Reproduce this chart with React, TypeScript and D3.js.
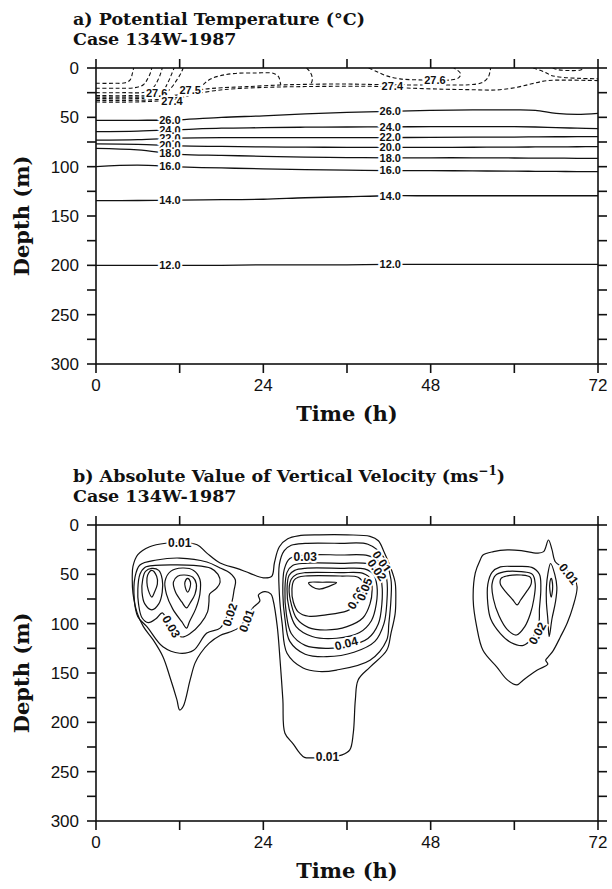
import React from "react";
import * as d3 from "d3";

type P = [number, number];

// ---------- axes ----------
const timeLabels = [0, 24, 48, 72];
const timeTicks = [0, 12, 24, 36, 48, 60, 72];
const depthLabels = [0, 50, 100, 150, 200, 250, 300];
const depthTicks = [0, 25, 50, 75, 100, 125, 150, 175, 200, 225, 250, 275, 300];

// ---------- panel a: potential temperature ----------
const isoTimes = [0, 6, 12, 18, 24, 30, 36, 42, 48, 54, 60, 63, 66, 69, 72];
const theta26 = [53, 53, 52.5, 50, 48.5, 46.5, 45, 44, 43, 42.5, 42.5, 43, 46, 47, 46];
const theta24 = [64.5, 64, 62.5, 61, 60.5, 60, 59.8, 59.6, 59.5, 59.5, 59.5, 59.8, 60.5, 61, 61.5];
const theta22 = [73, 72.5, 71, 70.5, 70.5, 70.5, 70.5, 70.5, 70.3, 70, 70, 69.8, 69.7, 69.6, 69.6];
const theta20 = [77, 77.5, 79, 79.5, 80, 80.2, 80.4, 80.4, 80.4, 80.3, 80.2, 80, 80, 79.8, 79.7];
const theta18 = [81.4, 83, 87.5, 88.5, 89.5, 90.3, 90.8, 91, 91, 91, 91.2, 91.3, 91.4, 91.5, 91.5];
const theta16 = [100, 98.5, 100.3, 101.3, 102.2, 103, 103.5, 104, 104, 104.3, 104.5, 104.7, 104.8, 105, 105];
const theta14 = [134.5, 134.3, 134, 133.5, 133, 131.5, 130.5, 129.5, 129.5, 129.5, 129.5, 129.5, 129.5, 129.5, 129.5];
const theta12 = [200, 200, 200, 200, 199.5, 199.5, 199.5, 199, 199, 199, 199, 199, 199, 199, 199];
const solidLevels = ["26.0", "24.0", "22.0", "20.0", "18.0", "16.0", "14.0", "12.0"];
const solidDepths = [theta26, theta24, theta22, theta20, theta18, theta16, theta14, theta12];
const solidLabelTimes = [10.6, 42.2];

// dashed near-surface isotherms (t, depth)
const dashD1: P[] = [[0, 15.5], [2.5, 15.5], [4.2, 15], [4.9, 12], [5.2, 6], [5.4, 0]];
const dashD2: P[] = [[0, 20.5], [3, 20.5], [5.5, 20], [6.8, 17], [7.4, 11], [7.8, 5], [8, 0]];
const dashD3: P[] = [[0, 25], [4, 25], [7, 24.5], [8.2, 20], [8.9, 12], [9.3, 5], [9.5, 0]];
const dashD4: P[] = [[0, 28], [5, 28], [8, 27.5], [9.6, 23], [10.3, 15], [10.8, 7], [11.2, 0]];
const dashB1: P[] = [[0, 29.5], [5, 29.5], [8, 29], [9.8, 26], [10.8, 20], [11.6, 12], [12.2, 5], [12.5, 0]];
const dashB2: P[] = [[0, 32.8], [5, 32.8], [8, 32.3], [10, 31.2], [12, 29.5]];
const dash275: P[] = [[0, 31], [6, 31], [9, 30], [11.5, 27.5], [13.5, 24], [15.5, 21.5], [18, 20], [21.6, 18.9], [26.4, 17.2], [30, 16.6], [35, 16.2], [40, 16.7], [45, 17.2], [50, 17.2], [53.5, 17], [55.3, 15], [56.2, 10], [56.5, 4], [56.6, 0]];
const dash274: P[] = [[0, 34.5], [5, 34.5], [8, 33.8], [10.6, 32.5], [12.5, 29.5], [14.5, 26], [17, 23], [20, 21], [25, 19.5], [30, 18.8], [36, 18.5], [40, 18.6], [44.6, 20.3], [50, 21.5], [54, 22], [57.5, 22.2], [60.4, 19.5], [62.5, 16], [64.7, 12.8], [68, 12.3], [72, 12.8]];
const dashA1: P[] = [[14.8, 22], [15.5, 16], [16.5, 11], [18, 7.5], [20, 5.5], [23, 5], [25.5, 5.5], [26.2, 9], [26.4, 14], [26.5, 17]];
const dashA2: P[] = [[30.2, 0], [30.7, 4], [31, 9], [31, 13], [30.8, 16.5]];
const dashU1: P[] = [[39.1, 0], [40.3, 3.7], [41.7, 8], [43.6, 11], [46, 12], [48.6, 12.2], [51, 12], [52, 10], [52.3, 6], [51.8, 2], [51.3, 0]];
const dashR1: P[] = [[62.7, 0], [64.2, 3.7], [65.3, 7.5], [67, 9.5], [69.5, 10.5], [72, 11]];
const dashR2: P[] = [[65.5, 0], [66.3, 1.8], [68, 2.6], [69.5, 2], [70, 0]];
const dashedLines = [dashD1, dashD2, dashD3, dashD4, dashB1, dashB2, dash275, dash274, dashA1, dashA2, dashU1, dashR1, dashR2];
const dashLabelText = ["27.6", "27.5", "27.4", "27.4", "27.6"];
const dashLabelT = [8.7, 13.5, 10.9, 42.5, 48.6];
const dashLabelD = [25.7, 22.3, 33.5, 18.8, 12.2];

// ---------- panel b: |w| contours (t, depth), closed rings ----------
const wOuter: P[] = [[12, 18], [14.5, 20], [15.9, 28.5], [17.8, 38.5], [20.2, 44], [22.1, 49], [24, 53.5], [25.2, 52], [25.6, 38], [26.3, 22], [27.5, 14], [29, 11], [32, 10], [36, 10], [39.3, 11.5], [40.5, 16], [41.3, 27], [42.2, 42], [42.9, 58], [43, 75], [42.9, 90], [42.3, 110], [41.7, 127], [39.3, 144], [37.6, 157], [37.2, 177], [36.9, 211], [36.4, 228], [35.3, 233], [33.3, 235], [31.1, 236], [29.9, 235.5], [29.2, 231], [28.3, 222], [27.1, 211], [26.8, 177], [26.4, 137], [26, 103], [25.4, 76], [25.1, 70], [24.2, 67.5], [23.3, 71], [23.5, 77], [22.5, 84], [21.5, 95], [20.5, 104], [19.2, 108.5], [17.8, 112], [16.2, 120], [15, 130], [14.2, 140], [13.5, 157], [12.5, 184], [12, 187.5], [11.6, 177], [10.6, 154], [9.6, 133.5], [8.2, 116.5], [6.8, 103], [5.9, 89], [5.3, 69], [5.2, 55], [5.3, 42], [6, 30], [7.7, 22], [10, 18.5]];
const wL2: P[] = [[12, 33.5], [15.9, 37.5], [17.8, 43.6], [19.2, 48.6], [20, 56], [19.8, 66], [19.5, 78], [18.8, 92], [17.8, 104.5], [15.9, 109.5], [14, 127], [12, 130], [9.6, 123.5], [7.3, 103], [6, 93], [5.5, 76], [5.6, 52.7], [6.3, 40.5], [8.7, 35.5]];
const wL3: P[] = [[6.3, 50], [7, 43], [8.5, 41], [11, 40.5], [14, 41], [16.5, 44], [17.5, 50], [17.8, 58], [17.3, 64], [16.3, 70], [16.2, 78], [16, 88], [15, 100], [13.5, 110], [12.3, 113.5], [11.3, 108], [10.3, 98], [9.5, 89], [8.6, 95], [7.5, 99], [6.6, 94], [6.1, 80], [6, 65]];
const wL4a: P[] = [[8, 44], [9, 46], [9.5, 55], [9.5, 68], [9, 80], [8, 86], [7, 80], [6.6, 68], [6.7, 55], [7.1, 47]];
const wL5a: P[] = [[8, 46], [8.7, 52], [8.8, 60], [8.4, 68], [8, 73], [7.5, 66], [7.3, 58], [7.4, 51]];
const wL4b: P[] = [[12.4, 43.6], [14, 46], [14.9, 55], [14.9, 70], [14.3, 85], [13.4, 98], [13, 104.5], [12.3, 98], [11, 85], [10.1, 70], [9.9, 57], [10.7, 47]];
const wL5b: P[] = [[12.7, 50.7], [13.9, 53], [14.4, 60], [14.2, 70], [13.5, 79], [13, 84], [12.3, 78], [11.4, 68], [11.1, 58], [11.7, 52]];
const wL6b: P[] = [[13.15, 54], [13.55, 58], [13.5, 63], [13.15, 68], [12.8, 63], [12.75, 58]];
const wM2: P[] = [[30, 18.6], [35, 18.6], [39, 19.5], [41.2, 32], [42.3, 55], [42.3, 76], [42, 100], [41.7, 116.5], [39.3, 137], [34.5, 147], [32, 148.5], [29.7, 145], [27.4, 130], [26.7, 100], [26.3, 70], [26.3, 40], [27, 26], [28, 20.5]];
const wM3: P[] = [[30, 30.4], [35, 30.4], [39, 31], [40.8, 38], [41.7, 55], [41.7, 80], [41.3, 100], [40, 118], [37, 129], [33.1, 133.5], [30, 131], [27.8, 118], [27.1, 95], [26.8, 70], [27, 45], [27.8, 34]];
const wM4: P[] = [[30, 38.8], [35, 38.8], [39, 39.5], [40.5, 46], [41, 60], [41, 80], [40.5, 100], [39, 115], [36, 123], [33, 125], [30, 122], [28, 110], [27.3, 90], [27.1, 65], [27.4, 48], [28.2, 41]];
const wM5: P[] = [[30, 43.9], [35, 43.9], [38.5, 44.5], [39.8, 50], [40.3, 62], [40.2, 80], [39.5, 97], [37.8, 109], [34.5, 114.8], [31, 113], [28.7, 103], [27.7, 85], [27.4, 65], [27.7, 51], [28.5, 46]];
const wM6: P[] = [[30, 48.3], [35, 48.3], [38.3, 49], [39.4, 55], [39.6, 66], [39.3, 80], [38.3, 94], [36, 103], [33, 106.4], [30.5, 104], [28.8, 95], [28, 80], [27.7, 65], [28, 55], [28.8, 50]];
const wM7: P[] = [[30, 51.7], [35, 51.7], [37.6, 53], [38.4, 60], [38.3, 70], [37.6, 80], [36, 87], [33, 91], [30.5, 92.5], [29, 88], [28.3, 78], [28.1, 65], [28.4, 56], [29, 53]];
const wM8: P[] = [[30.5, 58.5], [32.5, 58], [34.5, 58.5], [33.5, 62], [32, 65], [31, 62.5]];
const wRo: P[] = [[55.5, 30.4], [57, 27], [59, 25.3], [61, 26], [63.3, 28.5], [64.2, 27], [64.9, 15.2], [65.4, 25], [65.9, 37.5], [67, 43], [68.5, 52], [69, 62.8], [68.4, 83], [67.6, 99], [66.6, 113.5], [65.6, 127], [64.9, 133.5], [64.5, 137], [64.8, 141], [63.3, 147], [61.3, 157], [60.4, 162], [59, 157], [57.5, 144], [55.5, 127], [54.6, 103], [54.1, 76], [54.4, 48.6], [55.1, 35.5]];
const wR2: P[] = [[58, 42.5], [60, 42], [62.5, 43], [63.6, 50], [63.8, 65], [63.6, 85], [63.5, 100], [62.5, 115], [61.3, 122], [59.5, 119], [58, 110], [56.6, 95], [56.2, 80], [56.2, 60], [56.8, 48]];
const wR3: P[] = [[58.5, 47.5], [61, 47.3], [62.6, 50], [63, 60], [62.8, 75], [62.3, 90], [61.5, 103], [60.3, 111.5], [59, 106], [57.8, 92], [57, 75], [56.8, 60], [57.3, 51]];
const wR4: P[] = [[59, 51.5], [61, 50.7], [62.3, 53], [62.4, 60], [61.7, 68], [60.9, 76], [60.4, 81], [59.8, 76], [58.8, 68], [58, 60], [58.1, 54]];
const wRs: P[] = [[65.2, 39], [65.8, 50], [66.1, 63], [65.9, 78], [65.4, 95], [65, 113], [64.8, 95], [64.6, 78], [64.6, 63], [64.8, 50]];
const wRs2: P[] = [[65.3, 54], [65.5, 62], [65.4, 70], [65.3, 73], [65.1, 66], [65.1, 58]];
const wRings = [wOuter, wL2, wL3, wL4a, wL5a, wL4b, wL5b, wL6b, wM2, wM3, wM4, wM5, wM6, wM7, wM8, wRo, wR2, wR3, wR4, wRs, wRs2];
const wLabelText = ["0.01", "0.03", "0.02", "0.01", "0.03", "0.01", "0.02", "0.06", "0.05", "0.04", "0.01", "0.01", "0.02"];
const wLabelT = [12, 10.8, 19.2, 21.6, 30, 41, 40.3, 37.3, 38.5, 35.9, 33.2, 67.8, 63.3];
const wLabelD = [18, 103, 91, 97, 32.4, 37.2, 45.6, 74, 65.2, 120, 235, 49.7, 109.8];
const wLabelAngle = [0, 60, -72, -70, 0, 55, 55, -62, -68, -15, 0, 52, -62];

const INK = "#111";
const SERIF = "'DejaVu Serif', serif";
const SANS = "'Liberation Sans', Arial, sans-serif";

const X0 = 96, X1 = 598;
const x = d3.scaleLinear().domain([0, 72]).range([X0, X1]);

function Frame({ y }: { y: d3.ScaleLinear<number, number> }) {
  const [top, bot] = [y(0), y(300)];
  const tk = 9;
  return (
    <g stroke={INK} strokeWidth={1.6} fill="none">
      <rect x={X0} y={top} width={X1 - X0} height={bot - top} />
      {timeTicks.map((t) => (
        <g key={"t" + t}>
          <line x1={x(t)} x2={x(t)} y1={bot} y2={bot + tk} />
          <line x1={x(t)} x2={x(t)} y1={top} y2={top - tk} />
        </g>
      ))}
      {depthTicks.map((d) => (
        <g key={"d" + d}>
          <line x1={X0 - tk} x2={X0} y1={y(d)} y2={y(d)} />
          <line x1={X1} x2={X1 + tk} y1={y(d)} y2={y(d)} />
        </g>
      ))}
    </g>
  );
}

function AxisText({ y, titleY }: { y: d3.ScaleLinear<number, number>; titleY: number }) {
  const bot = y(300);
  const mid = (y(0) + y(300)) / 2;
  return (
    <g fill={INK}>
      {depthLabels.map((d) => (
        <text key={d} x={79} y={y(d)} dy="0.36em" textAnchor="end" fontFamily={SANS} fontSize={17}>
          {d}
        </text>
      ))}
      {timeLabels.map((t) => (
        <text key={t} x={x(t)} y={bot + 27} textAnchor="middle" fontFamily={SANS} fontSize={17}>
          {t}
        </text>
      ))}
      <text x={(X0 + X1) / 2} y={titleY} textAnchor="middle" fontFamily={SERIF} fontWeight="bold" fontSize={21}>
        Time (h)
      </text>
      <text transform={`translate(29,${mid}) rotate(-90)`} textAnchor="middle" fontFamily={SERIF} fontWeight="bold" fontSize={21}>
        Depth (m)
      </text>
    </g>
  );
}

function Label({ px, py, text, angle, size }: { px: number; py: number; text: string; angle: number; size: number }) {
  return (
    <text
      transform={`translate(${px},${py}) rotate(${angle})`}
      textAnchor="middle"
      dy="0.35em"
      fontFamily={SANS}
      fontSize={size}
      fontWeight="bold"
      fill={INK}
      stroke="#fff"
      strokeWidth={4}
      paintOrder="stroke"
    >
      {text}
    </text>
  );
}

export default function App() {
  const yA = d3.scaleLinear().domain([0, 300]).range([68, 364]);
  const yB = d3.scaleLinear().domain([0, 300]).range([525, 821]);

  const lineA = d3.line<P>().x((p) => x(p[0])).y((p) => yA(p[1])).curve(d3.curveCatmullRom.alpha(0.5));
  const ringB = d3.line<P>().x((p) => x(p[0])).y((p) => yB(p[1])).curve(d3.curveCatmullRomClosed.alpha(0.5));

  return (
    <svg width={612} height={889} style={{ display: "block", position: "absolute", left: 0, top: 0, background: "#fff" }}>
      <defs>
        <clipPath id="clipA">
          <rect x={X0} y={68} width={X1 - X0} height={296} />
        </clipPath>
        <clipPath id="clipB">
          <rect x={X0} y={525} width={X1 - X0} height={296} />
        </clipPath>
      </defs>
      <rect width={612} height={889} fill="#fff" />

      {/* ---------- panel a ---------- */}
      <g fill={INK} fontFamily={SERIF} fontWeight="bold" fontSize={17.5}>
        <text x={73} y={25}>a) Potential Temperature (°C)</text>
        <text x={73} y={45}>Case 134W-1987</text>
      </g>
      <g clipPath="url(#clipA)" fill="none" stroke={INK} strokeWidth={1.3}>
        {solidDepths.map((ds, i) => (
          <path key={"s" + i} d={lineA(isoTimes.map((t, j) => [t, ds[j]] as P)) || ""} />
        ))}
        {dashedLines.map((pts, i) => (
          <path key={"dl" + i} d={lineA(pts) || ""} strokeDasharray="4 2.5" strokeWidth={1.1} />
        ))}
      </g>
      {solidDepths.map((ds, i) =>
        solidLabelTimes.map((lt) => {
          const depth = d3.scaleLinear().domain(isoTimes).range(ds)(lt);
          return <Label key={"sl" + i + "_" + lt} px={x(lt)} py={yA(depth)} text={solidLevels[i]} angle={0} size={11} />;
        })
      )}
      {dashLabelText.map((s, i) => (
        <Label key={"dlab" + i} px={x(dashLabelT[i])} py={yA(dashLabelD[i])} text={s} angle={0} size={11} />
      ))}
      <Frame y={yA} />
      <AxisText y={yA} titleY={421} />

      {/* ---------- panel b ---------- */}
      <g fill={INK} fontFamily={SERIF} fontWeight="bold" fontSize={17.5}>
        <text x={73} y={482}>
          b) Absolute Value of Vertical Velocity (ms
          <tspan dy={-7} fontSize={12}>−1</tspan>
          <tspan dy={7}>)</tspan>
        </text>
        <text x={73} y={502}>Case 134W-1987</text>
      </g>
      <g clipPath="url(#clipB)" fill="none" stroke={INK} strokeWidth={1.2}>
        {wRings.map((r, i) => (
          <path key={"w" + i} d={ringB(r) || ""} />
        ))}
      </g>
      {wLabelText.map((s, i) => (
        <Label key={"wl" + i} px={x(wLabelT[i])} py={yB(wLabelD[i])} text={s} angle={wLabelAngle[i]} size={12} />
      ))}
      <Frame y={yB} />
      <AxisText y={yB} titleY={878} />
    </svg>
  );
}
